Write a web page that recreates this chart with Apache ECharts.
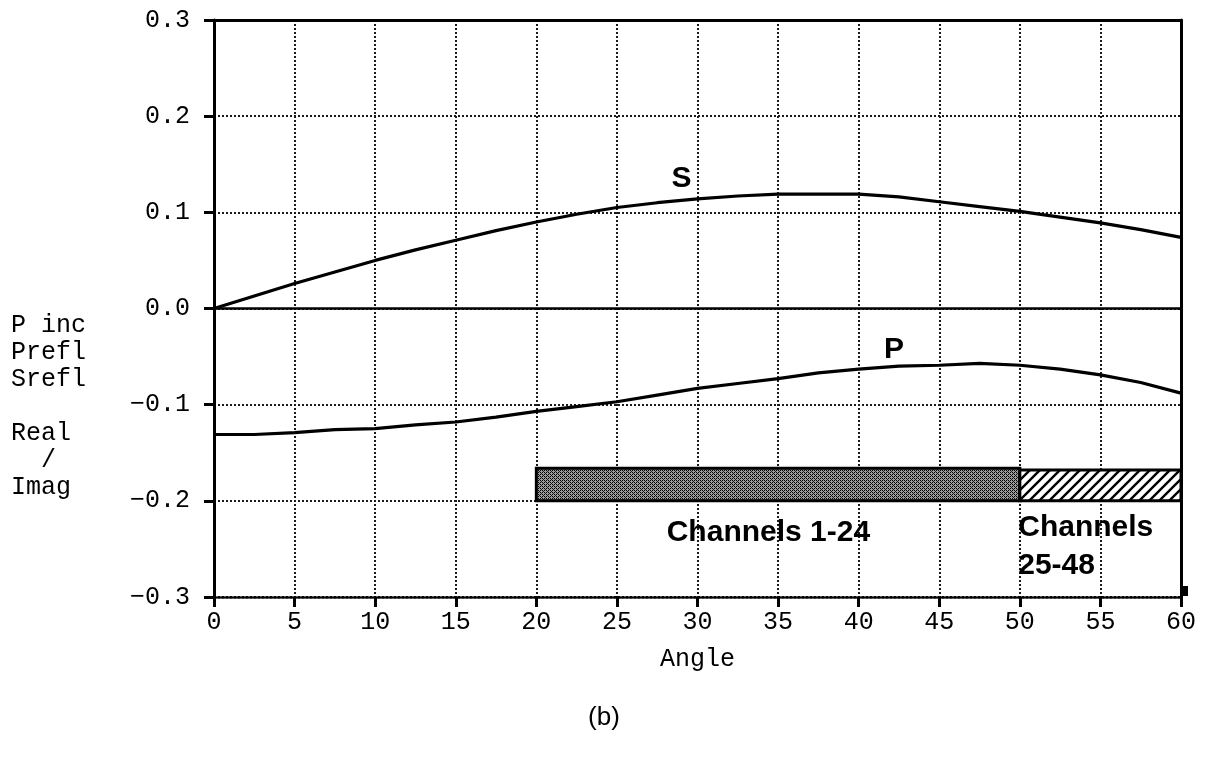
<!DOCTYPE html>
<html><head><meta charset="utf-8">
<script src="https://cdn.jsdelivr.net/npm/echarts@6/dist/echarts.min.js"></script>
<style>html,body{margin:0;padding:0;background:#fff}#c{width:1208px;height:758px}</style>
</head><body><div id="c"></div>
<script>
// ---- data ----
const angles = [0,2.5,5,7.5,10,12.5,15,17.5,20,22.5,25,27.5,30,32.5,35,37.5,40,42.5,45,47.5,50,52.5,55,57.5,60];
const sRefl = [0,0.013,0.026,0.038,0.050,0.061,0.071,0.081,0.090,0.098,0.105,0.110,0.114,0.117,0.119,0.119,0.119,0.116,0.111,0.106,0.101,0.095,0.089,0.082,0.074];
const pRefl = [-0.131,-0.131,-0.129,-0.126,-0.125,-0.121,-0.118,-0.113,-0.107,-0.102,-0.097,-0.090,-0.083,-0.078,-0.073,-0.067,-0.063,-0.060,-0.059,-0.057,-0.059,-0.063,-0.069,-0.077,-0.088];
const barStart = [20, 50];
const barEnd = [50, 60];
const barLow = [-0.2, -0.2];
const barHigh = [-0.166, -0.168];
const labelText = ['S', 'P', 'Channels 1-24', 'Channels\n25-48'];
const labelX = [29.0, 42.2, 34.4, 49.9];
const labelY = [0.135, -0.043, -0.233, -0.248];
const yAxisTitle = ['P inc', 'Prefl', 'Srefl', '', 'Real', '  /', 'Imag'];
const xAxisTitle = 'Angle';
const caption = '(b)';

// ---- styles ----
const labelAlign = ['center', 'center', 'center', 'left'];
function dotPattern() {
  const c = document.createElement('canvas'); c.width = 4; c.height = 4;
  const g = c.getContext('2d');
  g.fillStyle = '#9a9a9a'; g.fillRect(0, 0, 4, 4);
  g.fillStyle = '#000';
  [[0,0],[2,0],[0,2],[2,2]].forEach(p => g.fillRect(p[0], p[1], 1, 1));
  g.fillStyle = '#222';
  [[1,1],[3,3]].forEach(p => g.fillRect(p[0], p[1], 1, 1));
  return c;
}
function hatchPattern() {
  const s = 10;
  const c = document.createElement('canvas'); c.width = s; c.height = s;
  const g = c.getContext('2d');
  g.fillStyle = '#fff'; g.fillRect(0, 0, s, s);
  g.strokeStyle = '#000'; g.lineWidth = 2.4; g.beginPath();
  g.moveTo(-3, s + 3); g.lineTo(s + 3, -3);
  g.moveTo(-3, 3); g.lineTo(3, -3);
  g.moveTo(s - 3, s + 3); g.lineTo(s + 3, s - 3);
  g.stroke();
  return c;
}
const barFills = [{image: dotPattern(), repeat: 'repeat'}, {image: hatchPattern(), repeat: 'repeat'}];

const mono = 'Liberation Mono';
const gridLine = {color: '#1a1a1a', width: 2, type: [2, 2]};
function fmtY(v) {
  if (Math.abs(v) < 1e-9) return '0.0';
  return (v < 0 ? '\u2212' : '') + Math.abs(v).toFixed(1);
}

const chart = echarts.init(document.getElementById('c'), null, {renderer: 'canvas'});
chart.setOption({
  animation: false,
  backgroundColor: '#fff',
  grid: {left: 214, right: 27, top: 20, bottom: 161},
  xAxis: [{
    type: 'value', min: 0, max: 60, interval: 5,
    name: xAxisTitle, nameLocation: 'middle', nameGap: 50,
    nameTextStyle: {fontFamily: mono, fontSize: 25, color: '#000'},
    axisLine: {show: true, onZero: false, lineStyle: {color: '#000', width: 2.5, type: [2, 2]}},
    axisTick: {show: true, length: 10, lineStyle: {color: '#000', width: 3}},
    axisLabel: {fontFamily: mono, fontSize: 25, color: '#000', margin: 13},
    splitLine: {show: true, lineStyle: gridLine}
  }, {
    type: 'value', position: 'top', min: 0, max: 60, interval: 5,
    axisLine: {show: true, onZero: false, lineStyle: {color: '#000', width: 3}},
    axisTick: {show: false}, axisLabel: {show: false}, splitLine: {show: false}
  }],
  yAxis: [{
    type: 'value', min: -0.3, max: 0.3, interval: 0.1,
    axisLine: {show: true, onZero: false, lineStyle: {color: '#000', width: 3}},
    axisTick: {show: true, length: 10, lineStyle: {color: '#000', width: 3}},
    axisLabel: {fontFamily: mono, fontSize: 25, color: '#000', margin: 24, formatter: fmtY},
    splitLine: {show: true, lineStyle: gridLine}
  }, {
    type: 'value', position: 'right', min: -0.3, max: 0.3, interval: 0.1,
    axisLine: {show: true, onZero: false, lineStyle: {color: '#000', width: 3}},
    axisTick: {show: false}, axisLabel: {show: false}, splitLine: {show: false}
  }],
  series: [{
    type: 'line', name: 'Srefl',
    data: angles.map((a, i) => [a, sRefl[i]]),
    showSymbol: false, lineStyle: {color: '#000', width: 3.2},
    markLine: {silent: true, symbol: 'none', label: {show: false},
      lineStyle: {color: '#000', width: 2.5, type: 'solid'}, data: [{yAxis: 0}]}
  }, {
    type: 'line', name: 'Prefl',
    data: angles.map((a, i) => [a, pRefl[i]]),
    showSymbol: false, lineStyle: {color: '#000', width: 3.2}
  }, {
    type: 'custom', name: 'channels',
    data: barStart.map((s, i) => [s, barEnd[i], barLow[i], barHigh[i]]),
    encode: {x: [0, 1], y: [2, 3]},
    renderItem: function (params, api) {
      const p0 = api.coord([api.value(0), api.value(3)]);
      const p1 = api.coord([api.value(1), api.value(2)]);
      return {
        type: 'rect',
        shape: {x: p0[0], y: p0[1], width: p1[0] - p0[0], height: p1[1] - p0[1]},
        style: {fill: barFills[params.dataIndex], stroke: '#000', lineWidth: 3}
      };
    },
    z: 3
  }, {
    type: 'custom', name: 'labels', clip: false,
    data: labelX.map((x, i) => [x, labelY[i], i]),
    encode: {x: 0, y: 1},
    renderItem: function (params, api) {
      const p = api.coord([api.value(0), api.value(1)]);
      const i = api.value(2);
      return {
        type: 'text', x: p[0], y: p[1],
        style: {text: labelText[i], fontFamily: 'Liberation Sans', fontWeight: 'bold', fontSize: 30,
          lineHeight: 38, fill: '#000', align: labelAlign[i], verticalAlign: 'middle'}
      };
    },
    z: 4
  }],
  graphic: [{
    type: 'text', left: 11, top: 312,
    style: {text: yAxisTitle.join('\n'), font: '25px "Liberation Mono"', lineHeight: 27, fill: '#000'}
  }, {
    type: 'text', x: 604, y: 718,
    style: {text: caption, font: '26px "Liberation Sans"', fill: '#000', align: 'center', verticalAlign: 'middle'}
  }, {
    type: 'rect', shape: {x: 1180, y: 586, width: 8, height: 10}, style: {fill: '#000'}
  }]
});
</script>
</body></html>
